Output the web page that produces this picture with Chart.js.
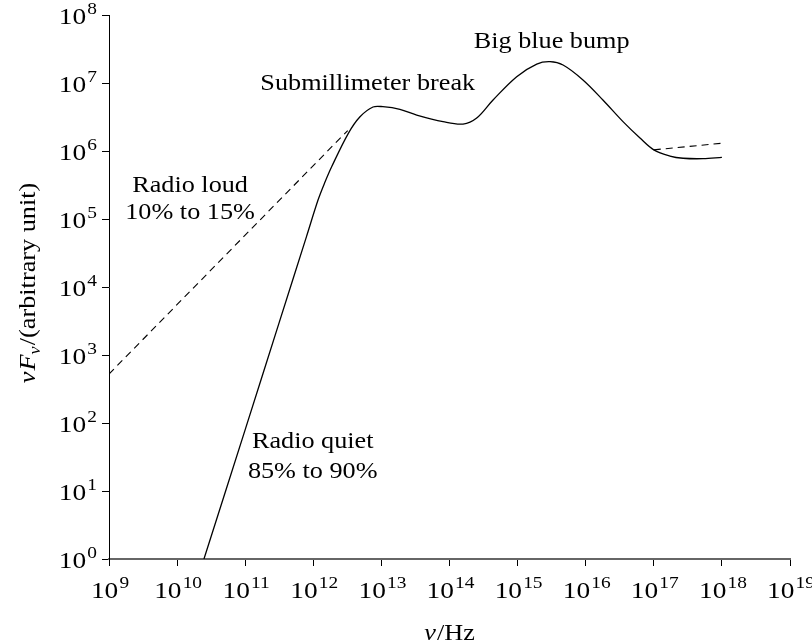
<!DOCTYPE html>
<html>
<head>
<meta charset="utf-8">
<title>AGN spectral energy distribution</title>
<script src="https://cdn.jsdelivr.net/npm/chart.js@4/dist/chart.umd.min.js"></script>
<style>
  html, body { margin: 0; padding: 0; background: #ffffff; }
  #wrap { width: 812px; height: 644px; }
</style>
</head>
<body>
<div id="wrap"><canvas id="sed" width="812" height="644"></canvas></div>
<script>
// Frequency (Hz) and nuF_nu (arbitrary unit) of the radio-quiet continuum
const nuQuiet = [2.48e10, 1.0e11, 3.16e11, 7.94e11, 1.18e12, 1.48e12, 1.86e12, 3.27e12,
  4.85e12, 7.53e12, 1.05e13, 1.87e13, 3.30e13, 8.04e13, 1.58e14, 2.51e14, 4.36e14,
  9.70e14, 1.91e15, 2.99e15, 4.65e15, 9.12e15, 1.79e16, 3.53e16, 6.27e16, 1.0e17,
  1.73e17, 2.69e17, 5.28e17, 1.0e18];
const fluxQuiet = [1, 80, 3020, 5.5e4, 1.93e5, 3.47e5, 5.87e5, 1.82e6,
  3.19e6, 4.44e6, 4.48e6, 4.10e6, 3.38e6, 2.70e6, 2.49e6, 3.05e6, 5.62e6,
  1.24e7, 1.90e7, 2.06e7, 1.84e7, 1.11e7, 5.62e6, 2.70e6, 1.55e6, 1.04e6,
  8.43e5, 7.82e5, 7.71e5, 8.07e5];

// Radio-loud synchrotron extension
const nuLoud = [1e9, 3.2e12];
const fluxLoud = [525, 2.0e6];

// Hard X-ray tail of the radio-loud population
const nuXray = [1e17, 1e18];
const fluxXray = [1.04e6, 1.30e6];

// Decade ticks (exponents of ten)
const xTickExps = [9, 10, 11, 12, 13, 14, 15, 16, 17, 18, 19];
const yTickExps = [0, 1, 2, 3, 4, 5, 6, 7, 8];

// Text annotations, anchored in data space
const noteText = ["Big blue bump", "Submillimeter break", "Radio loud", "10% to 15%", "Radio quiet", "85% to 90%"];
const noteNu = [3.16e15, 6.3e12, 1.55e10, 1.55e10, 9.8e11, 9.8e11];
const noteFlux = [4.0e7, 9.7e6, 3.05e5, 1.23e5, 52, 19];

const SERIF = "'Liberation Serif', 'Times New Roman', serif";
const STRETCH = 1.14; // widen the serif face a little
const toPts = (xs, ys) => xs.map((x, i) => ({ x: x, y: ys[i] }));

const textPlugin = {
  id: 'sedText',
  afterDraw(chart) {
    const ctx = chart.ctx;
    const xs = chart.scales.x, ys = chart.scales.y;
    const area = chart.chartArea;
    ctx.save();
    ctx.fillStyle = '#000';
    ctx.textBaseline = 'alphabetic';

    // pieces are [text, font, dy, extra gap]
    function runWidth(pieces) {
      let w = 0;
      pieces.forEach(p => { ctx.font = p[1]; w += ctx.measureText(p[0]).width + (p[3] || 0); });
      return w * STRETCH;
    }
    function drawRun(pieces, x0, base) {
      ctx.save();
      ctx.translate(x0, base);
      ctx.scale(STRETCH, 1);
      ctx.textAlign = 'left';
      let cx = 0;
      pieces.forEach(p => {
        ctx.font = p[1];
        ctx.fillText(p[0], cx, p[2]);
        cx += ctx.measureText(p[0]).width + (p[3] || 0);
      });
      ctx.restore();
    }

    const baseFont = '24px ' + SERIF;
    const supFont = '17px ' + SERIF;
    const powPieces = e => [['10', baseFont, 0, 1], [String(e), supFont, -10, 0]];

    // x tick labels
    xTickExps.forEach(e => {
      const px = xs.getPixelForValue(Math.pow(10, e));
      const w = runWidth(powPieces(e));
      drawRun(powPieces(e), px - w / 2 + 1, area.bottom + 39);
    });
    // y tick labels
    yTickExps.forEach(e => {
      const py = ys.getPixelForValue(Math.pow(10, e));
      const w = runWidth(powPieces(e));
      drawRun(powPieces(e), area.left - 12 - w, py + 9);
    });

    // annotations
    ctx.textBaseline = 'middle';
    noteText.forEach((t, i) => {
      const pc = [[t, '23px ' + SERIF, 0]];
      const w = runWidth(pc);
      drawRun(pc, xs.getPixelForValue(noteNu[i]) - w / 2, ys.getPixelForValue(noteFlux[i]));
    });
    ctx.textBaseline = 'alphabetic';

    const it = 'italic 23px ' + SERIF, rm = '23px ' + SERIF, sub = 'italic 16px ' + SERIF;

    // x axis title: nu/Hz
    const xt = [['\u03bd', it, 0, 1], ['/Hz', rm, 0]];
    const wx = runWidth(xt);
    drawRun(xt, (area.left + area.right) / 2 - wx / 2, 640);

    // y axis title: nu F_nu /(arbitrary unit)
    const yt = [['\u03bd', it, 0, 1], ['F', it, 0], ['\u03bd', sub, 5, 1], ['/(arbitrary unit)', rm, 0]];
    const wy = runWidth(yt);
    ctx.translate(35, (area.top + area.bottom) / 2 - 4);
    ctx.rotate(-Math.PI / 2);
    drawRun(yt, -wy / 2, 0);
    ctx.restore();
  }
};

const powTicks = exps => scale => { scale.ticks = exps.map(e => ({ value: Math.pow(10, e) })); };

new Chart(document.getElementById('sed'), {
  type: 'scatter',
  data: {
    datasets: [
      { label: 'Radio quiet', data: toPts(nuQuiet, fluxQuiet), showLine: true,
        borderColor: '#000', borderWidth: 1.3, pointRadius: 0, tension: 0.35 },
      { label: 'Radio loud', data: toPts(nuLoud, fluxLoud), showLine: true,
        borderColor: '#000', borderWidth: 1.1, borderDash: [7, 5], pointRadius: 0 },
      { label: 'X-ray', data: toPts(nuXray, fluxXray), showLine: true,
        borderColor: '#000', borderWidth: 1.1, borderDash: [7, 5], pointRadius: 0 }
    ]
  },
  options: {
    responsive: false,
    animation: false,
    layout: { padding: { left: 0, top: 15, right: 22, bottom: 0 } },
    plugins: { legend: { display: false }, tooltip: { enabled: false } },
    scales: {
      x: {
        type: 'logarithmic', min: 1e9, max: 1e19,
        afterBuildTicks: powTicks(xTickExps),
        afterFit: s => { s.height = 85; },
        ticks: { display: false },
        grid: { display: true, drawOnChartArea: false, drawTicks: true, tickLength: 7, tickColor: '#000', tickWidth: 1 },
        border: { display: true, color: '#666', width: 2 }
      },
      y: {
        type: 'logarithmic', min: 1, max: 1e8,
        afterBuildTicks: powTicks(yTickExps),
        afterFit: s => { s.width = 109; },
        ticks: { display: false },
        grid: { display: true, drawOnChartArea: false, drawTicks: true, tickLength: 7, tickColor: '#000', tickWidth: 1 },
        border: { display: true, color: '#000', width: 1 }
      }
    }
  },
  plugins: [textPlugin]
});
</script>
</body>
</html>
